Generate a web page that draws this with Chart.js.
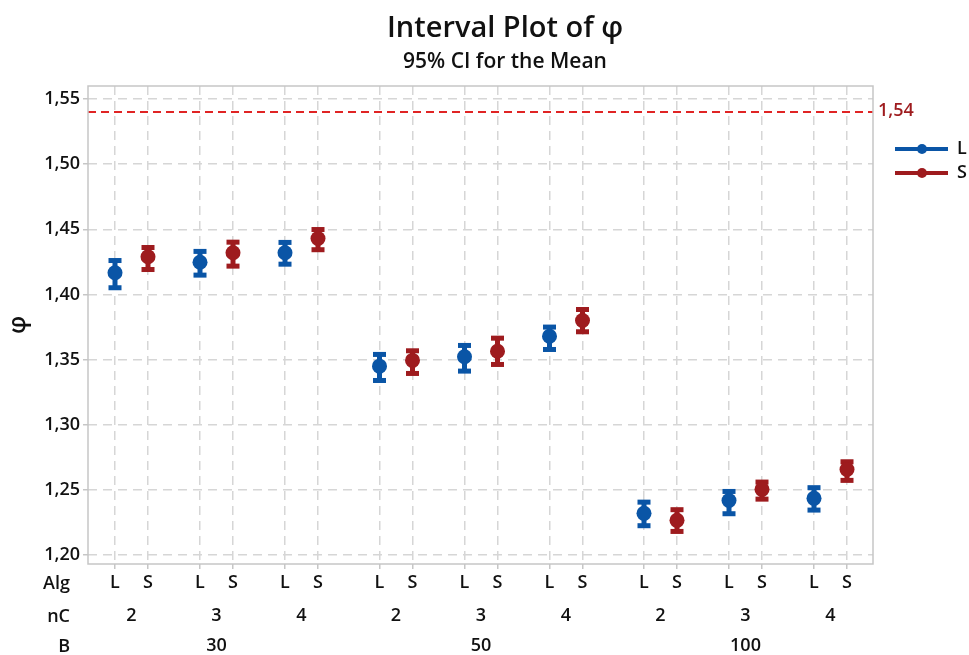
<!DOCTYPE html>
<html>
<head>
<meta charset="utf-8">
<script src="https://cdn.jsdelivr.net/npm/chart.js@4/dist/chart.umd.min.js"></script>
<style>
  html, body { margin: 0; padding: 0; background: #ffffff; }
  #wrap { width: 969px; height: 655px; position: relative; }
</style>
</head>
<body>
<div id="wrap"><canvas id="c" width="969" height="655"></canvas></div>
<script>
// Factor levels (innermost first)
const algLevels = ['L', 'S'];
const nCLevels = ['2', '3', '4'];
const bLevels = ['30', '50', '100'];

// Means and 95% CI bounds, ordered B (30, 50, 100) x nC (2, 3, 4)
const meanL = [1.4166, 1.4247, 1.4320, 1.3449, 1.3521, 1.3679, 1.2319, 1.2418, 1.2434];
const lowL  = [1.4051, 1.4148, 1.4232, 1.3339, 1.3411, 1.3577, 1.2224, 1.2316, 1.2344];
const highL = [1.4260, 1.4330, 1.4399, 1.3539, 1.3608, 1.3749, 1.2405, 1.2487, 1.2516];

const meanS = [1.4289, 1.4320, 1.4429, 1.3493, 1.3564, 1.3800, 1.2265, 1.2503, 1.2656];
const lowS  = [1.4191, 1.4217, 1.4343, 1.3393, 1.3462, 1.3713, 1.2180, 1.2428, 1.2572];
const highS = [1.4360, 1.4401, 1.4498, 1.3567, 1.3664, 1.3884, 1.2347, 1.2559, 1.2715];

// Reference line and y tick values
const refValue = 1.54;
const yTicks = [1.20, 1.25, 1.30, 1.35, 1.40, 1.45, 1.50, 1.55];

// Colours
const BLUE = '#0a55a6';
const RED = '#9e1b1e';
const REF_RED = '#e02424';
const TEXT = '#111111';
const GRID = '#d6d6d6';
const FRAME = '#c6c6c6';

const FAMILY = "'Open Sans', 'Noto Sans', sans-serif";
const WEIGHT = 600;

// Slot layout on the x axis: group (B), pair (nC) and member (Alg) spacing
const GROUP_STEP = 264.5, PAIR_STEP = 85, ALG_STEP = 33;
const slot = (g, n, a) => g * GROUP_STEP + n * PAIR_STEP + a * ALG_STEP;

const fmt = v => v.toFixed(2).replace('.', ',');

// Tick sets for the three stacked category rows
const algTicks = [], nCTicks = [], bTicks = [];
bLevels.forEach((b, g) => {
  nCLevels.forEach((n, i) => {
    algLevels.forEach((a, k) => algTicks.push({ value: slot(g, i, k), label: a }));
    nCTicks.push({ value: slot(g, i, 0.5), label: n });
  });
  bTicks.push({ value: slot(g, 1, 0.5), label: b });
});

function seriesPoints(means, lows, highs, a) {
  const pts = [];
  bLevels.forEach((b, g) => {
    nCLevels.forEach((n, i) => {
      const idx = g * nCLevels.length + i;
      pts.push({ x: slot(g, i, a), y: means[idx], lo: lows[idx], hi: highs[idx] });
    });
  });
  return pts;
}

Chart.defaults.font.family = FAMILY;
Chart.defaults.font.weight = WEIGHT;
Chart.defaults.color = TEXT;

const X_MIN = -27, X_MAX = 758;

function rowAxis(ticks, weight, height, pad, withGrid) {
  return {
    type: 'linear',
    position: 'bottom',
    weight: weight,
    min: X_MIN,
    max: X_MAX,
    afterBuildTicks: s => { s.ticks = ticks.map(t => ({ value: t.value })); },
    afterFit: s => { s.height = height; },
    ticks: {
      autoSkip: false,
      maxRotation: 0,
      padding: pad,
      color: TEXT,
      font: { size: 18, weight: WEIGHT },
      callback: (v, i) => ticks[i] ? ticks[i].label : ''
    },
    grid: withGrid ? {
      display: true,
      color: GRID,
      lineWidth: 1.5,
      drawTicks: true,
      tickLength: 5,
      tickColor: FRAME,
      tickWidth: 1.5,
      tickBorderDash: []
    } : { display: false, drawTicks: false },
    border: withGrid ? { display: false, dash: [9, 6] } : { display: false }
  };
}

// Error bars (stem plus caps) for each series
const intervalPlugin = {
  id: 'intervals',
  beforeDatasetsDraw(chart) {
    const { ctx } = chart;
    const xs = chart.scales.x, ys = chart.scales.y;
    chart.data.datasets.forEach(ds => {
      ctx.save();
      ctx.fillStyle = ds.backgroundColor;
      ctx.strokeStyle = ds.backgroundColor;
      ds.data.forEach(p => {
        const px = xs.getPixelForValue(p.x);
        const yHi = ys.getPixelForValue(p.hi);
        const yLo = ys.getPixelForValue(p.lo);
        ctx.lineWidth = 5;
        ctx.beginPath();
        ctx.moveTo(px, yHi);
        ctx.lineTo(px, yLo);
        ctx.stroke();
        ctx.fillRect(px - 6.5, yHi - 2.5, 13, 5);
        ctx.fillRect(px - 6.5, yLo - 2.5, 13, 5);
      });
      ctx.restore();
    });
  }
};

// Dashed reference line with its value label
const refPlugin = {
  id: 'refline',
  beforeDatasetsDraw(chart) {
    const { ctx, chartArea } = chart;
    const y = chart.scales.y.getPixelForValue(refValue);
    ctx.save();
    ctx.strokeStyle = REF_RED;
    ctx.lineWidth = 2;
    ctx.setLineDash([8, 5]);
    ctx.beginPath();
    ctx.moveTo(chartArea.left, y);
    ctx.lineTo(chartArea.right, y);
    ctx.stroke();
    ctx.setLineDash([]);
    ctx.fillStyle = RED;
    ctx.font = `${WEIGHT} 18px ${FAMILY}`;
    ctx.textAlign = 'left';
    ctx.textBaseline = 'middle';
    ctx.fillText(fmt(refValue), chartArea.right + 5, y - 1);
    ctx.restore();
  }
};

// Frame, titles, row labels and legend
const decorPlugin = {
  id: 'decor',
  afterDraw(chart) {
    const { ctx, chartArea } = chart;
    ctx.save();
    ctx.strokeStyle = FRAME;
    ctx.lineWidth = 1.5;
    ctx.strokeRect(chartArea.left, chartArea.top, chartArea.right - chartArea.left, chartArea.bottom - chartArea.top);

    ctx.fillStyle = TEXT;
    ctx.textAlign = 'center';
    ctx.textBaseline = 'alphabetic';
    ctx.font = `${WEIGHT} 29px ${FAMILY}`;
    ctx.fillText('Interval Plot of φ', 505, 37);
    ctx.font = `${WEIGHT} 21px ${FAMILY}`;
    ctx.fillText('95% CI for the Mean', 505, 68);

    // Row labels for the stacked category axes
    ctx.font = `${WEIGHT} 18px ${FAMILY}`;
    ctx.textAlign = 'right';
    ctx.textBaseline = 'middle';
    const rows = [['Alg', chart.scales.x], ['nC', chart.scales.x2], ['B', chart.scales.x3]];
    rows.forEach(([name, sc]) => {
      const item = sc._labelItems && sc._labelItems[0];
      const ly = item ? item.options.translation[1] + 12 : sc.top + 18;
      ctx.fillText(name, 70, ly);
    });

    // Legend
    chart.data.datasets.forEach((ds, i) => {
      const y = 149 + i * 24;
      ctx.strokeStyle = ds.backgroundColor;
      ctx.lineWidth = 4;
      ctx.beginPath();
      ctx.moveTo(895, y);
      ctx.lineTo(948, y);
      ctx.stroke();
      ctx.fillStyle = ds.backgroundColor;
      ctx.beginPath();
      ctx.arc(922, y, 5, 0, Math.PI * 2);
      ctx.fill();
      ctx.fillStyle = TEXT;
      ctx.textAlign = 'left';
      ctx.fillText(ds.label, 957, y);
    });
    ctx.restore();
  }
};

new Chart(document.getElementById('c'), {
  type: 'scatter',
  data: {
    datasets: [
      { label: algLevels[0], data: seriesPoints(meanL, lowL, highL, 0), backgroundColor: BLUE, borderColor: BLUE,
        pointRadius: 7.5, pointHoverRadius: 7.5, borderWidth: 0 },
      { label: algLevels[1], data: seriesPoints(meanS, lowS, highS, 1), backgroundColor: RED, borderColor: RED,
        pointRadius: 7.5, pointHoverRadius: 7.5, borderWidth: 0 }
    ]
  },
  options: {
    responsive: false,
    animation: false,
    events: [],
    layout: { padding: { top: 86, right: 96, left: 0, bottom: 0 } },
    plugins: { legend: { display: false }, title: { display: false }, tooltip: { enabled: false } },
    scales: {
      x: rowAxis(algTicks, 1, 33, 3, true),
      x2: rowAxis(nCTicks, 2, 32, 8, false),
      x3: rowAxis(bTicks, 3, 26, 6, false),
      y: {
        type: 'linear',
        min: 1.193,
        max: 1.56,
        afterBuildTicks: s => { s.ticks = yTicks.map(v => ({ value: v })); },
        afterFit: s => { s.width = 88; },
        ticks: { padding: 3, color: TEXT, font: { size: 18, weight: WEIGHT }, callback: v => fmt(v) },
        grid: {
          color: GRID, lineWidth: 1.5, drawTicks: true, tickLength: 5,
          tickColor: FRAME, tickWidth: 1.5, tickBorderDash: []
        },
        border: { display: false, dash: [9, 6] },
        title: { display: true, text: 'φ', color: TEXT, font: { size: 24, weight: WEIGHT }, padding: { top: 4, bottom: 0 } }
      }
    }
  },
  plugins: [refPlugin, intervalPlugin, decorPlugin]
});
</script>
</body>
</html>
